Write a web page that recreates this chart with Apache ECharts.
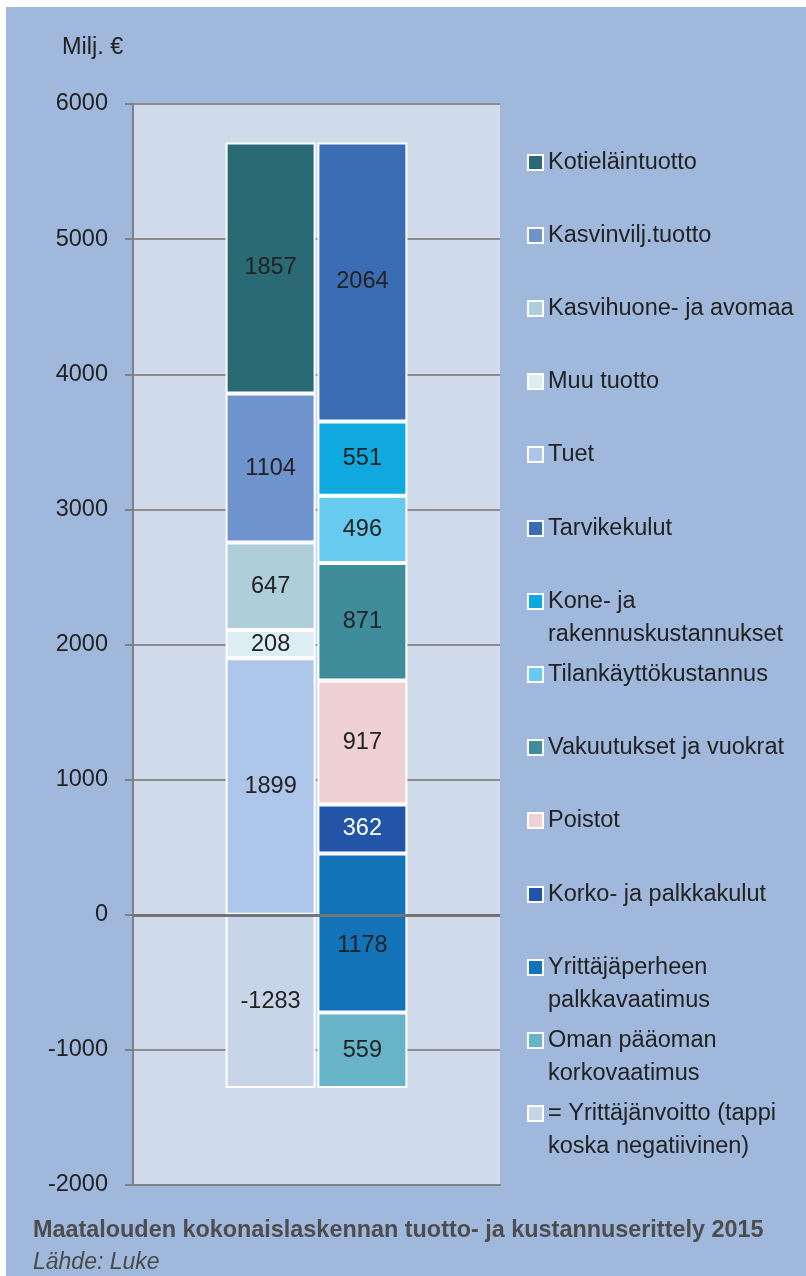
<!DOCTYPE html>
<html>
<head>
<meta charset="utf-8">
<script src="https://cdn.jsdelivr.net/npm/echarts@6/dist/echarts.min.js"></script>
<style>
    html, body { margin: 0; padding: 0; background: #ffffff; }
    #chart { position: absolute; left: 6px; top: 7px; width: 800px; height: 1269px; }
</style>
</head>
<body>
<div id="chart"></div>
<script>
// data
var categories = ['2015'];

var incomeNames = ['Tuet', 'Muu tuotto', 'Kasvihuone- ja avomaatuotto', 'Kasvinvilj.tuotto', 'Kotieläintuotto'];
var incomeValues = [1899, 208, 647, 1104, 1857];
var incomeColors = ['#adc5e8', '#dcedf3', '#aecfd9', '#6f93cc', '#2a6a74'];

var costNames = ['Oman pääoman korkovaatimus', 'Yrittäjäperheen palkkavaatimus', 'Korko- ja palkkakulut', 'Poistot',
    'Vakuutukset ja vuokrat', 'Tilankäyttökustannus', 'Kone- ja rakennuskustannukset', 'Tarvikekulut'];
var costValues = [559, 1178, 362, 917, 871, 496, 551, 2064];
var costColors = ['#67b4c8', '#1273b8', '#2255a8', '#efd1d3', '#3f8c9b', '#67cbef', '#0fa9e0', '#3b6db4'];

var profitName = '= Yrittäjänvoitto (tappio, koska negatiivinen)';
var profitValue = -1283;
var profitColor = '#c8d5e8';

var legendOrder = ['Kotieläintuotto', 'Kasvinvilj.tuotto', 'Kasvihuone- ja avomaatuotto', 'Muu tuotto', 'Tuet',
    'Tarvikekulut', 'Kone- ja rakennuskustannukset', 'Tilankäyttökustannus', 'Vakuutukset ja vuokrat', 'Poistot',
    'Korko- ja palkkakulut', 'Yrittäjäperheen palkkavaatimus', 'Oman pääoman korkovaatimus', profitName];
var legendText = {
    'Kone- ja rakennuskustannukset': 'Kone- ja\nrakennuskustannukset',
    'Yrittäjäperheen palkkavaatimus': 'Yrittäjäperheen\npalkkavaatimus',
    'Oman pääoman korkovaatimus': 'Oman pääoman\nkorkovaatimus'
};
legendText[profitName] = '= Yrittäjänvoitto (tappio,\nkoska negatiivinen)';

var yMin = -2000, yMax = 6000, yStep = 1000;

var FONT = '"Liberation Sans", Arial, sans-serif';
var FS = 23.5;
var TXT = '#222222';

function barLabel(color) {
    return {
        show: true,
        position: 'inside',
        formatter: '{c}',
        color: color || TXT,
        fontFamily: FONT,
        fontSize: FS
    };
}

var series = [];

// left column: income + negative profit
incomeNames.forEach(function (name, i) {
    series.push({
        name: name,
        type: 'bar',
        stack: 'tuotot',
        barWidth: 90,
        barGap: '2%',
        data: [incomeValues[i]],
        itemStyle: {color: incomeColors[i], borderColor: '#ffffff', borderWidth: 2},
        label: barLabel()
    });
});
series.push({
    name: profitName,
    type: 'bar',
    stack: 'tuotot',
    barWidth: 90,
    data: [profitValue],
    itemStyle: {color: profitColor, borderColor: '#ffffff', borderWidth: 2},
    label: barLabel(),
    markLine: {
        symbol: 'none',
        silent: true,
        z: 10,
        label: {show: false},
        lineStyle: {color: '#747474', width: 3, type: 'solid'},
        data: [{yAxis: 0}]
    }
});

// right column: costs start from the loss level
series.push({
    name: 'pohja',
    type: 'bar',
    stack: 'kulut',
    stackStrategy: 'all',
    barWidth: 90,
    data: [profitValue],
    silent: true,
    itemStyle: {color: 'rgba(0,0,0,0)'},
    label: {show: false},
    emphasis: {disabled: true}
});
costNames.forEach(function (name, i) {
    var lbl = barLabel(name === 'Korko- ja palkkakulut' ? '#ffffff' : TXT);
    if (name === 'Yrittäjäperheen palkkavaatimus') {
        lbl.offset = [0, 13];
    }
    series.push({
        name: name,
        type: 'bar',
        stack: 'kulut',
        stackStrategy: 'all',
        barWidth: 90,
        data: [costValues[i]],
        itemStyle: {color: costColors[i], borderColor: '#ffffff', borderWidth: 2},
        label: lbl
    });
});

// one legend per row so rows keep a fixed pitch;
// two-line entries get an empty first line so the icon sits by the first text line
var legends = legendOrder.map(function (name, i) {
    var twoLine = legendText[name] && legendText[name].indexOf('\n') > -1;
    var iconY = 155 + i * 73.2;
    return {
        data: [name],
        left: 521,
        top: Math.round(iconY - (twoLine ? 49.5 : 16.5)),
        padding: 0,
        itemWidth: 15,
        itemHeight: 15,
        itemGap: 0,
        icon: 'rect',
        selectedMode: false,
        formatter: function (n) { return legendText[n] ? '\n' + legendText[n] : n; },
        textStyle: {
            color: TXT,
            fontFamily: FONT,
            fontSize: FS,
            lineHeight: 33,
            width: 247,
            overflow: 'truncate',
            ellipsis: ''
        }
    };
});

var option = {
    backgroundColor: '#a0b8dc',
    animation: false,
    title: [{
        text: 'Maatalouden kokonaislaskennan tuotto- ja kustannuserittely 2015',
        left: 27,
        top: 1212,
        padding: 0,
        textStyle: {color: '#4d4d4d', fontFamily: FONT, fontSize: 23.4, fontWeight: 'bold'}
    }, {
        text: 'Lähde: Luke',
        left: 27,
        top: 1244,
        padding: 0,
        textStyle: {color: '#4a4a4a', fontFamily: FONT, fontSize: 23, fontWeight: 'normal', fontStyle: 'italic'}
    }, {
        text: 'Milj. €',
        left: 56,
        top: 29,
        padding: 0,
        textStyle: {color: TXT, fontFamily: FONT, fontSize: FS, fontWeight: 'normal'}
    }],
    legend: legends,
    grid: {
        left: 127,
        right: 306,
        top: 97,
        bottom: 91,
        show: true,
        backgroundColor: '#cfdbea',
        borderWidth: 0
    },
    xAxis: {
        type: 'category',
        data: categories,
        axisLine: {show: true, onZero: false, lineStyle: {color: '#808080', width: 2}},
        axisTick: {show: false},
        axisLabel: {show: false}
    },
    yAxis: {
        type: 'value',
        min: yMin,
        max: yMax,
        interval: yStep,
        axisLine: {show: true, lineStyle: {color: '#808080', width: 2}},
        axisTick: {show: true, length: 8, lineStyle: {color: '#808080', width: 2}},
        axisLabel: {
            color: TXT, fontFamily: FONT, fontSize: FS, margin: 25,
            formatter: function (v) { return String(v); }
        },
        splitLine: {show: true, lineStyle: {color: '#8c8c8c', width: 2}}
    },
    series: series
};

var myChart = echarts.init(document.getElementById('chart'));
myChart.setOption(option);
</script>
</body>
</html>
